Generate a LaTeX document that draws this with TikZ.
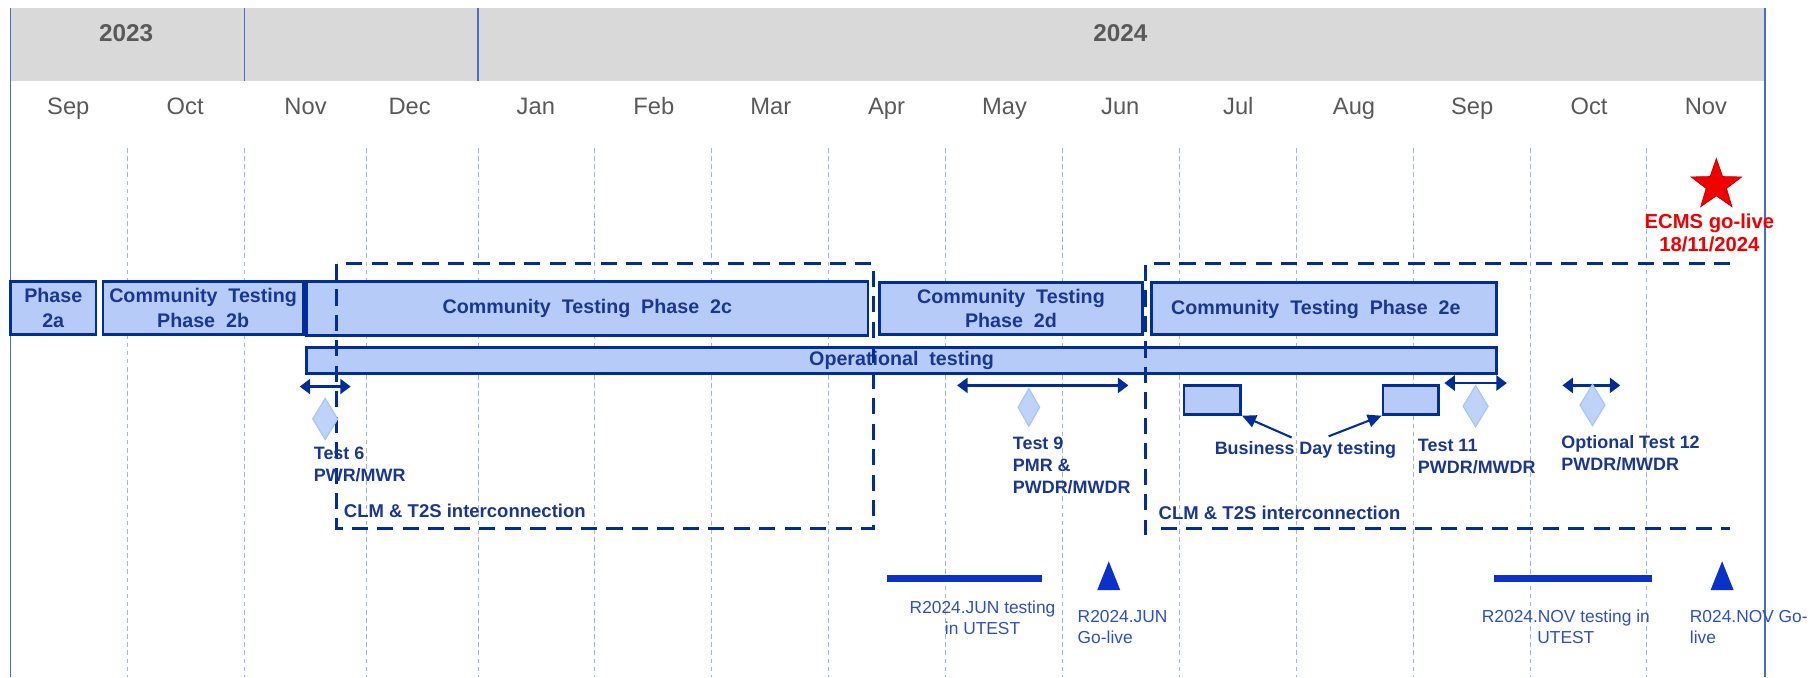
\documentclass[tikz,border=0pt]{standalone}
\usepackage{fontspec}
\setmainfont{Liberation Sans}
\usetikzlibrary{shapes.geometric,arrows.meta}
\definecolor{dkblue}{RGB}{0,45,150}
\definecolor{txtblue}{RGB}{25,55,145}
\definecolor{ltblue}{RGB}{183,203,248}
\definecolor{gridblue}{RGB}{160,182,228}
\definecolor{frameblue}{RGB}{70,110,200}
\definecolor{hdrgray}{RGB}{217,217,217}
\definecolor{hdrtext}{RGB}{89,89,89}
\definecolor{barblue}{RGB}{10,50,200}
\definecolor{reltext}{RGB}{45,80,190}
\definecolor{dmfill}{RGB}{190,210,250}
\definecolor{dmdraw}{RGB}{165,200,235}
\definecolor{ecmsred}{RGB}{240,0,0}
\tikzset{
  phasebox/.style={draw=dkblue, line width=2.4pt, fill=ltblue, text=txtblue, align=center, inner sep=0pt,
    font=\fontsize{17}{21}\selectfont\bfseries},
  smallbox/.style={draw=dkblue, line width=2.4pt, fill=ltblue, inner sep=0pt},
  gridline/.style={gridblue, line width=0.7pt, dash pattern=on 4pt off 3pt},
  dashbox/.style={dkblue, line width=2.6pt, dash pattern=on 14pt off 8pt},
  frame/.style={frameblue, line width=1pt},
  month/.style={text=hdrtext, inner sep=0pt, anchor=base, font=\fontsize{20.5}{24}\selectfont},
  year/.style={text=hdrtext, inner sep=0pt, font=\fontsize{21}{25}\selectfont\bfseries},
  testlab/.style={text=txtblue, inner sep=0pt, align=left, font=\fontsize{15.5}{19}\selectfont\bfseries},
  rellab/.style={text=reltext, inner sep=0pt, font=\fontsize{15}{18}\selectfont},
  dblarrow/.style={dkblue, line width=2pt, {Triangle[length=9pt,width=13pt]}-{Triangle[length=9pt,width=13pt]}},
  onearrow/.style={dkblue, line width=1.8pt, -{Triangle[length=12pt,width=11pt]}},
  milestone/.style={diamond, fill=dmfill, draw=dmdraw, line width=1pt, inner sep=0pt},
  relbar/.style={barblue, line width=6pt},
}
\begin{document}
\begin{tikzpicture}[x=1pt,y=-1pt]
\useasboundingbox (0,0) rectangle (1570,585);
% header
\fill[hdrgray] (9,7) rectangle (1525,70);
\draw[frame] (211,7) -- (211,70);
\draw[frame] (413,7) -- (413,70);
\draw[frame] (9,7) -- (9,585);
\draw[frame] (1525,7) -- (1525,585);
\node[year] (y2023) at (109,29) {2023};
\node[year] (y2024) at (968,29) {2024};
\foreach \m/\x [count=\i] in {Sep/59,Oct/160,Nov/264,Dec/354,Jan/463,Feb/565,Mar/666,Apr/766,May/868,Jun/968,Jul/1070,Aug/1170,Sep/1272,Oct/1373,Nov/1474}
  \node[month] (m\i) at (\x,99) {\m};
% grid
\foreach \x in {110,211,317,413,514,615,716,817,918,1019,1120,1221,1322,1423}
  \draw[gridline] (\x,128) -- (\x,585);
% star
\node[star, star points=5, star point ratio=2.5, fill=ecmsred, draw=red!75!black, line width=0.6pt, minimum size=46pt, inner sep=0pt] (star) at (1483,160) {};
\node[text=ecmsred, inner sep=0pt, align=center, font=\fontsize{17.5}{20}\selectfont\bfseries] (ecms) at (1477,201) {ECMS go-live\\18/11/2024};
% phase boxes
\node[phasebox, minimum width=74pt, minimum height=46pt] (p2a) at (46,266) {Phase\\2a};
\node[phasebox, minimum width=173pt, minimum height=46pt] (p2b) at (175.5,266) {Community\ \ Testing\\Phase\ \ 2b};
\node[phasebox, minimum width=485pt, minimum height=47pt] (p2c) at (507.5,266.5) {Community\ \ Testing\ \ Phase\ \ 2c};
\node[phasebox, minimum width=227pt, minimum height=45pt] (p2d) at (873.5,266.5) {Community\ \ Testing\\Phase\ \ 2d};
\node[phasebox, minimum width=298pt, minimum height=45pt] (p2e) at (1144,266.5) {};
\node[text=txtblue, inner sep=0pt, font=\fontsize{17}{21}\selectfont\bfseries] (p2etext) at (1137,267) {Community\ \ Testing\ \ Phase\ \ 2e};
\node[phasebox, minimum width=1028pt, minimum height=23pt] (op) at (779,311.5) {Operational\ \ testing};
% dashed interconnection boxes
\draw[dashbox] (291,228) rectangle (755,457);
\draw[dashbox] (1495,228) -- (990,228) -- (990,462);
\draw[dashbox] (1003,457) -- (1495,457);
\node[testlab, anchor=west, font=\fontsize{16}{19}\selectfont\bfseries] (clm1) at (297,441) {CLM \& T2S interconnection};
\node[testlab, anchor=west, font=\fontsize{16}{19}\selectfont\bfseries] (clm2) at (1001,443) {CLM \& T2S interconnection};
% test windows
\coordinate (t6a) at (259,334); \coordinate (t6b) at (303,334);
\coordinate (t9a) at (827,333); \coordinate (t9b) at (975,333);
\coordinate (t11a) at (1248,331); \coordinate (t11b) at (1302,331);
\coordinate (t12a) at (1350,333); \coordinate (t12b) at (1400,333);
\draw[dblarrow] (t6a) -- (t6b);
\draw[dblarrow] (t9a) -- (t9b);
\draw[dblarrow] (t11a) -- (t11b);
\draw[dblarrow] (t12a) -- (t12b);
\node[milestone, minimum width=22pt, minimum height=36pt] (d6) at (281,362) {};
\node[milestone, minimum width=19pt, minimum height=33pt] (d9) at (889,352) {};
\node[milestone, minimum width=22pt, minimum height=36pt] (d11) at (1275,351) {};
\node[milestone, minimum width=22pt, minimum height=36pt] (d12) at (1376,350) {};
\node[testlab, anchor=west] (l6) at (271,401.5) {Test 6\\PWR/MWR};
\node[testlab, anchor=west] (l9) at (875,402) {Test 9\\PMR \&\\PWDR/MWDR};
\node[testlab, anchor=west] (l11) at (1225,394.5) {Test 11\\PWDR/MWDR};
\node[testlab, anchor=west] (l12) at (1349,392) {Optional Test 12\\PWDR/MWDR};
% business day testing
\node[smallbox, minimum width=49pt, minimum height=25pt] (bd1) at (1047.5,345.5) {};
\node[smallbox, minimum width=48pt, minimum height=25pt] (bd2) at (1219,345.5) {};
\node[testlab, anchor=center] (bdl) at (1128,389) {Business Day testing};
\coordinate (bdla) at (1116,378);
\coordinate (bdlb) at (1148,377);
\draw[onearrow] (bdla) -- (bd1.south east);
\draw[onearrow] (bdlb) -- (bd2.south west);
% releases
\coordinate (jb1) at (766,500); \coordinate (jb2) at (900,500);
\coordinate (nb1) at (1291,500); \coordinate (nb2) at (1427,500);
\draw[relbar] (jb1) -- (jb2);
\draw[relbar] (nb1) -- (nb2);
\fill[barblue] (948,510) -- (958,485) -- (968,510) -- cycle;
\fill[barblue] (1478,510) -- (1488,485) -- (1498,510) -- cycle;
\node[rellab, align=center] (jt) at (849,534) {R2024.JUN testing\\in UTEST};
\node[rellab, align=left, anchor=west] (jg) at (931,542) {R2024.JUN\\Go-live};
\node[rellab, align=center] (nt) at (1353,541.5) {R2024.NOV testing in\\UTEST};
\node[rellab, align=left, anchor=west] (ng) at (1460,542) {R024.NOV Go-\\live};
\end{tikzpicture}
\end{document}
